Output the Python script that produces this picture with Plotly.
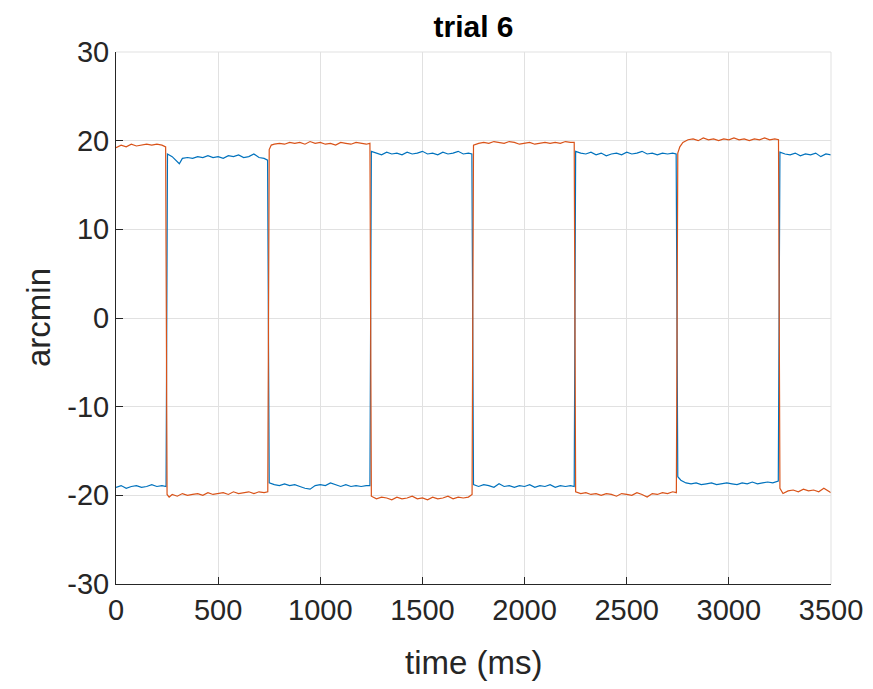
import plotly.graph_objects as go

# ---- data (time in ms, position in arcmin) ----
blue_t = [0, 25, 50, 75, 100, 125, 150, 175, 200, 225, 245,
          252, 275, 300, 310, 325, 350, 375, 400, 425, 450, 475, 500, 525, 550, 575, 600, 625, 650, 675, 700, 725, 742,
          750, 775, 800, 825, 850, 875, 900, 925, 950, 975, 1000, 1025, 1050, 1075, 1100, 1125, 1150, 1175, 1200, 1225, 1243,
          1250, 1275, 1300, 1325, 1350, 1375, 1400, 1425, 1450, 1475, 1500, 1525, 1550, 1575, 1600, 1625, 1650, 1675, 1700, 1725, 1742,
          1750, 1775, 1800, 1825, 1850, 1875, 1900, 1925, 1950, 1975, 2000, 2025, 2050, 2075, 2100, 2125, 2150, 2175, 2200, 2225, 2243,
          2250, 2275, 2300, 2325, 2350, 2375, 2400, 2425, 2450, 2475, 2500, 2525, 2550, 2575, 2600, 2625, 2650, 2675, 2700, 2725, 2742,
          2750, 2765, 2790, 2815, 2840, 2865, 2890, 2915, 2940, 2965, 2990, 3015, 3040, 3065, 3090, 3115, 3140, 3165, 3190, 3215, 3242,
          3250, 3275, 3300, 3325, 3350, 3375, 3400, 3425, 3450, 3475, 3500]
blue_v = [-19.1, -18.9, -19.2, -19.0, -18.9, -19.1, -19.0, -18.8, -19.0, -18.9, -19.0,
          18.5, 18.2, 17.6, 17.4, 18.0, 18.1, 18.0, 18.2, 18.1, 18.3, 18.1, 18.2, 18.0, 18.3, 18.2, 18.4, 18.1, 18.2, 18.5, 18.1, 18.0, 17.8,
          -18.6, -18.8, -18.9, -18.7, -18.9, -18.8, -19.0, -19.2, -19.3, -18.9, -18.8, -18.9, -18.6, -18.8, -19.0, -18.8, -19.0, -18.9, -19.0, -18.9, -18.9,
          18.8, 18.6, 18.4, 18.7, 18.5, 18.6, 18.4, 18.7, 18.5, 18.6, 18.8, 18.5, 18.6, 18.4, 18.7, 18.5, 18.6, 18.8, 18.5, 18.6, 18.5,
          -18.8, -19.0, -18.8, -18.9, -19.1, -18.7, -19.0, -18.9, -19.1, -18.9, -19.0, -18.8, -19.1, -18.9, -19.0, -18.8, -19.1, -18.9, -19.0, -18.9, -19.0,
          18.8, 18.6, 18.5, 18.7, 18.4, 18.6, 18.3, 18.5, 18.6, 18.4, 18.7, 18.5, 18.6, 18.8, 18.5, 18.6, 18.4, 18.6, 18.5, 18.6, 18.5,
          -17.9, -18.3, -18.6, -18.7, -18.6, -18.8, -18.7, -18.6, -18.8, -18.7, -18.6, -18.7, -18.8, -18.6, -18.7, -18.5, -18.7, -18.6, -18.5, -18.6, -18.4,
          18.7, 18.5, 18.4, 18.6, 18.3, 18.5, 18.4, 18.6, 18.2, 18.5, 18.4]

orange_t = [0, 25, 50, 75, 100, 125, 150, 175, 200, 225, 243,
            250, 260, 275, 300, 325, 350, 375, 400, 425, 450, 475, 500, 525, 550, 575, 600, 625, 650, 675, 700, 725, 743,
            750, 760, 775, 800, 825, 850, 875, 900, 925, 950, 975, 1000, 1025, 1050, 1075, 1100, 1125, 1150, 1175, 1200, 1225, 1243,
            1250, 1275, 1300, 1325, 1350, 1375, 1400, 1425, 1450, 1475, 1500, 1525, 1550, 1575, 1600, 1625, 1650, 1675, 1700, 1725, 1743,
            1750, 1775, 1800, 1825, 1850, 1875, 1900, 1925, 1950, 1975, 2000, 2025, 2050, 2075, 2100, 2125, 2150, 2175, 2200, 2225, 2243,
            2250, 2275, 2300, 2325, 2350, 2375, 2400, 2425, 2450, 2475, 2500, 2525, 2550, 2575, 2600, 2625, 2650, 2675, 2700, 2725, 2743,
            2750, 2760, 2775, 2800, 2825, 2850, 2875, 2900, 2925, 2950, 2975, 3000, 3025, 3050, 3075, 3100, 3125, 3150, 3175, 3200, 3225, 3243,
            3250, 3265, 3290, 3315, 3340, 3365, 3390, 3415, 3440, 3465, 3490, 3500]
orange_v = [19.2, 19.5, 19.3, 19.6, 19.4, 19.5, 19.6, 19.5, 19.6, 19.5, 19.3,
            -19.9, -20.2, -19.9, -20.1, -19.8, -20.0, -19.9, -19.8, -20.0, -19.7, -19.9, -19.8, -19.7, -19.9, -19.6, -19.8, -19.7, -19.6, -19.8, -19.6, -19.7, -19.6,
            19.0, 19.5, 19.6, 19.7, 19.6, 19.8, 19.7, 19.8, 19.6, 19.9, 19.7, 19.8, 19.6, 19.7, 19.5, 19.8, 19.7, 19.6, 19.8, 19.7, 19.6, 19.7,
            -20.1, -20.4, -20.2, -20.3, -20.5, -20.2, -20.4, -20.3, -20.1, -20.4, -20.3, -20.5, -20.2, -20.4, -20.3, -20.1, -20.4, -20.2, -20.3, -20.2, -19.9,
            19.5, 19.7, 19.8, 19.7, 19.9, 19.8, 19.7, 19.9, 19.8, 19.6, 19.7, 19.8, 19.6, 19.7, 19.8, 19.7, 19.8, 19.7, 19.9, 19.8, 19.8,
            -19.6, -19.8, -19.7, -19.9, -19.8, -20.0, -19.8, -19.9, -20.1, -19.8, -19.9, -20.0, -19.7, -19.9, -20.2, -19.8, -19.9, -19.7, -19.8, -19.6, -19.7,
            18.6, 19.3, 19.8, 20.1, 20.2, 20.0, 20.3, 20.1, 20.2, 20.0, 20.2, 20.1, 20.3, 20.1, 20.2, 20.0, 20.2, 20.1, 20.3, 20.1, 20.2, 20.1,
            -19.2, -19.8, -19.5, -19.4, -19.6, -19.3, -19.5, -19.4, -19.6, -19.2, -19.5, -19.7]

x_ticks = [0, 500, 1000, 1500, 2000, 2500, 3000, 3500]
y_ticks = [-30, -20, -10, 0, 10, 20, 30]

FONT = "Liberation Sans, Arial, Helvetica, sans-serif"
AX = "#262626"
GRID = "#e1e1e1"

fig = go.Figure()
fig.add_trace(go.Scatter(x=blue_t, y=blue_v, mode="lines",
                         line=dict(color="#0072BD", width=1.2), showlegend=False))
fig.add_trace(go.Scatter(x=orange_t, y=orange_v, mode="lines",
                         line=dict(color="#D95319", width=1.2), showlegend=False))

# the page body adds an 8px margin, so the figure is 8px smaller than the window
fig.update_layout(
    width=865, height=681,
    margin=dict(l=108, r=42, t=44, b=105, autoexpand=False),
    paper_bgcolor="white", plot_bgcolor="white",
    font=dict(family=FONT, color=AX),
    title=dict(text="<b>trial 6</b>", x=0.5, xanchor="center", xref="paper",
               y=1 - 18 / 681, yref="container", yanchor="middle",
               font=dict(size=30, color="black")),
)
fig.update_xaxes(range=[0, 3500], tickvals=x_ticks, ticktext=[str(v) for v in x_ticks],
                 showgrid=True, gridcolor=GRID, gridwidth=1,
                 showline=True, linecolor=AX, linewidth=1,
                 ticks="inside", ticklen=7, tickcolor=AX, automargin=False,
                 tickfont=dict(size=29, color=AX), zeroline=False)
fig.update_yaxes(range=[-30, 30], tickvals=y_ticks, ticktext=[str(v) for v in y_ticks],
                 showgrid=True, gridcolor=GRID, gridwidth=1,
                 showline=True, linecolor=AX, linewidth=1,
                 ticks="inside", ticklen=7, tickcolor=AX, automargin=False,
                 tickfont=dict(size=29, color=AX), zeroline=False)

# axis titles placed as text annotations
fig.add_annotation(text="time (ms)", xref="paper", yref="paper", x=0.5, y=0,
                   yshift=-78, xanchor="center", yanchor="middle", showarrow=False,
                   font=dict(size=33, color=AX))
fig.add_annotation(text="arcmin", xref="paper", yref="paper", x=0, y=0.5,
                   xshift=-78, xanchor="center", yanchor="middle", showarrow=False,
                   textangle=-90, font=dict(size=33, color=AX))

# light frame on top and right, like the grid-coloured box of the reference
fig.add_shape(type="line", xref="paper", yref="paper", x0=0, x1=1, y0=1, y1=1,
              line=dict(color=GRID, width=1))
fig.add_shape(type="line", xref="paper", yref="paper", x0=1, x1=1, y0=0, y1=1,
              line=dict(color=GRID, width=1))

fig.write_html("out.html")
